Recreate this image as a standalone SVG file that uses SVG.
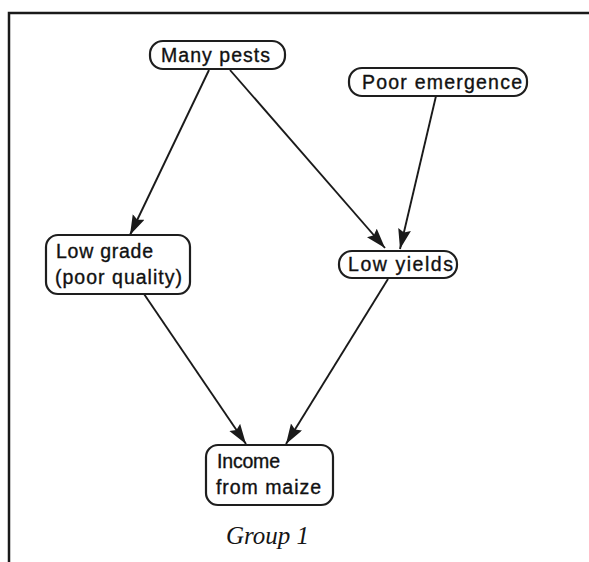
<svg xmlns="http://www.w3.org/2000/svg" width="589" height="562" viewBox="0 0 589 562">
  <style>
    .box { fill: #ffffff; stroke: #1e1e1e; stroke-width: 2.2; }
    .lbl { font-family: "Liberation Sans", Arial, sans-serif; font-size: 19.5px; fill: #111111; stroke: #111111; stroke-width: 0.35; }
    .edge { stroke: #1a1a1a; stroke-width: 1.9; fill: none; marker-end: url(#head); }
    .frame { stroke: #1a1a1a; stroke-width: 2.5; fill: none; }
    .caption { font-family: "Liberation Serif", "Times New Roman", serif; font-style: italic; font-size: 25px; fill: #151515; }
  </style>
  <defs>
    <marker id="head" markerUnits="userSpaceOnUse" markerWidth="22" markerHeight="14" refX="20" refY="6.5" orient="auto">
      <path d="M0,0 L20,6.5 L0,13 L3,6.5 z" fill="#1a1a1a"/>
    </marker>
  </defs>

  <rect width="589" height="562" fill="#ffffff"/>

  <!-- frame -->
  <path class="frame" d="M9,562 L9,13 L589,13"/>

  <!-- connectors -->
  <g id="connectors">
    <line class="edge" x1="209" y1="70" x2="130" y2="235"/>
    <line class="edge" x1="230" y1="70" x2="385" y2="248"/>
    <line class="edge" x1="436" y1="96" x2="400" y2="249"/>
    <line class="edge" x1="144" y1="294" x2="246" y2="444"/>
    <line class="edge" x1="388" y1="279" x2="286" y2="444"/>
  </g>

  <g id="many-pests">
    <rect class="box" x="150" y="41" width="135" height="28" rx="13"/>
    <text class="lbl" x="161" y="62" textLength="109" lengthAdjust="spacing">Many pests</text>
  </g>

  <g id="poor-emergence">
    <rect class="box" x="349" y="68" width="178" height="28" rx="13"/>
    <text class="lbl" x="362" y="89" textLength="160" lengthAdjust="spacing">Poor emergence</text>
  </g>

  <g id="low-grade">
    <rect class="box" x="46" y="235" width="144" height="59" rx="12"/>
    <text class="lbl" x="56" y="258" textLength="97" lengthAdjust="spacing">Low grade</text>
    <text class="lbl" x="55" y="284" textLength="127" lengthAdjust="spacing">(poor quality)</text>
  </g>

  <g id="low-yields">
    <rect class="box" x="339" y="251" width="118" height="27" rx="13"/>
    <text class="lbl" x="348" y="271" textLength="105" lengthAdjust="spacing">Low yields</text>
  </g>

  <g id="income">
    <rect class="box" x="206" y="445" width="127" height="60" rx="12"/>
    <text class="lbl" x="217" y="468" textLength="63" lengthAdjust="spacing">Income</text>
    <text class="lbl" x="216" y="494" textLength="105" lengthAdjust="spacing">from maize</text>
  </g>

  <text class="caption" x="226" y="544">Group 1</text>
</svg>
